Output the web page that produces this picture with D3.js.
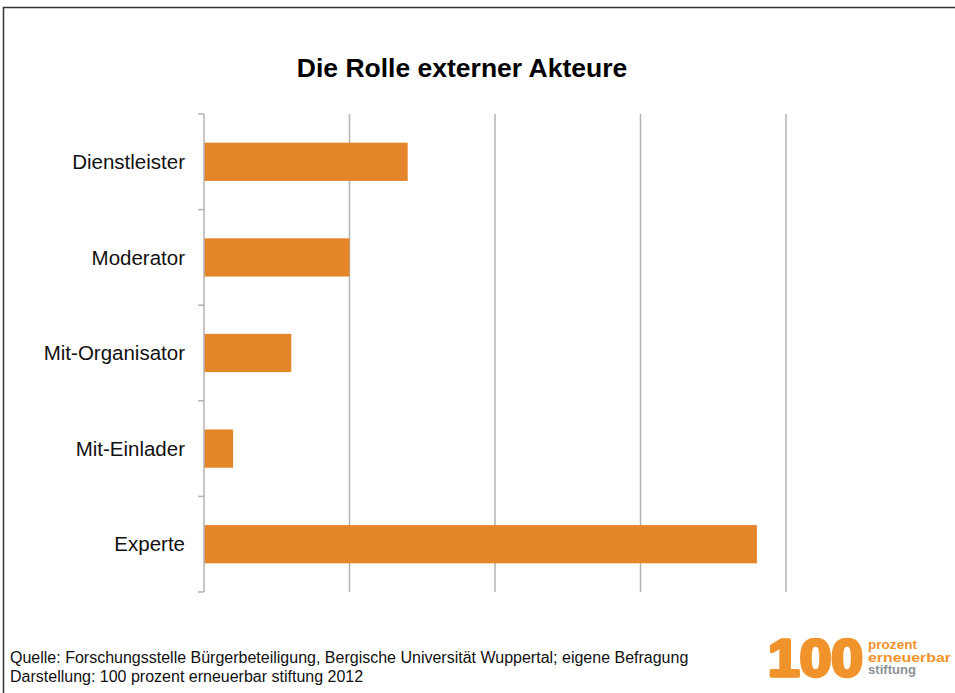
<!DOCTYPE html>
<html>
<head>
<meta charset="utf-8">
<script src="https://cdn.jsdelivr.net/npm/d3@7"></script>
<style>
  body { margin: 0; background: #fff; }
  svg text { font-family: "Liberation Sans", Arial, sans-serif; }
</style>
</head>
<body>
<div id="chart"></div>
<script>
// data
var categories = ["Dienstleister", "Moderator", "Mit-Organisator", "Mit-Einlader", "Experte"];
var values = [14, 10, 6, 2, 38];
var xTicks = [0, 10, 20, 30, 40];
var sourceLines = [
  "Quelle: Forschungsstelle Bürgerbeteiligung, Bergische Universität Wuppertal; eigene Befragung",
  "Darstellung: 100 prozent erneuerbar stiftung 2012"
];
var logoWords = ["prozent", "erneuerbar", "stiftung"];

var W = 955, H = 693;
var margin = {top: 114, right: 169, bottom: 101, left: 204},
    width = W - margin.left - margin.right,
    height = H - margin.top - margin.bottom;

var orange = "#e5852a";
var grid = "#b3b3b3";

var svg = d3.select("#chart").append("svg")
  .attr("width", W)
  .attr("height", H);

// frame
svg.append("path")
  .attr("d", "M3.5," + H + " V7.5 H" + W)
  .attr("fill", "none")
  .attr("stroke", "#333")
  .attr("stroke-width", 1.5);

svg.append("text")
  .attr("x", 462)
  .attr("y", 77)
  .attr("text-anchor", "middle")
  .attr("font-size", 26.5)
  .attr("font-weight", "bold")
  .text("Die Rolle externer Akteure");

var g = svg.append("g")
  .attr("transform", "translate(" + margin.left + "," + margin.top + ")");

var x = d3.scaleLinear().domain([0, 40]).range([0, width]);
var y = d3.scaleBand().domain(categories).range([0, height]).paddingInner(0.6).paddingOuter(0.3);

// gridlines
g.selectAll(".grid")
  .data(xTicks.slice(1))
  .enter().append("line")
  .attr("class", "grid")
  .attr("x1", function(d) { return x(d); })
  .attr("x2", function(d) { return x(d); })
  .attr("y1", 0)
  .attr("y2", height)
  .attr("stroke", grid)
  .attr("stroke-width", 1.5);

// bars
g.selectAll(".bar")
  .data(values)
  .enter().append("rect")
  .attr("class", "bar")
  .attr("x", 0)
  .attr("y", function(d, i) { return y(categories[i]); })
  .attr("width", function(d) { return x(d); })
  .attr("height", y.bandwidth())
  .attr("fill", orange);

// y axis line + ticks between categories
g.append("line")
  .attr("x1", 0).attr("x2", 0)
  .attr("y1", 0).attr("y2", height)
  .attr("stroke", grid)
  .attr("stroke-width", 1.5);

var step = height / categories.length;
g.selectAll(".ytick")
  .data(d3.range(categories.length + 1))
  .enter().append("line")
  .attr("class", "ytick")
  .attr("x1", -6).attr("x2", 0)
  .attr("y1", function(d) { return d * step; })
  .attr("y2", function(d) { return d * step; })
  .attr("stroke", grid)
  .attr("stroke-width", 1.5);

g.selectAll(".ylabel")
  .data(categories)
  .enter().append("text")
  .attr("class", "ylabel")
  .attr("x", -19)
  .attr("y", function(d) { return y(d) + y.bandwidth() / 2; })
  .attr("dy", "0.35em")
  .attr("text-anchor", "end")
  .attr("font-size", 20.5)
  .attr("fill", "#111")
  .text(function(d) { return d; });

// source
svg.selectAll(".src")
  .data(sourceLines)
  .enter().append("text")
  .attr("class", "src")
  .attr("x", 10)
  .attr("y", function(d, i) { return 663 + i * 19; })
  .attr("font-size", 16)
  .attr("fill", "#111")
  .text(function(d) { return d; });

// logo
var logo = svg.append("g").attr("transform", "translate(768,676)");
logo.append("text")
  .attr("x", 0).attr("y", 0)
  .attr("font-size", 52)
  .attr("font-weight", "bold")
  .attr("fill", "#f0932b")
  .attr("stroke", "#f0932b")
  .attr("stroke-width", 3.5)
  .attr("stroke-linejoin", "round")
  .attr("textLength", 95)
  .attr("lengthAdjust", "spacingAndGlyphs")
  .text("100");
var wordLen = [49, 83, 48];
logo.selectAll(".lw")
  .data(logoWords)
  .enter().append("text")
  .attr("x", 100)
  .attr("y", function(d, i) { return -27 + i * 12.5; })
  .attr("font-size", 12.5)
  .attr("font-weight", "bold")
  .attr("textLength", function(d, i) { return wordLen[i]; })
  .attr("lengthAdjust", "spacingAndGlyphs")
  .attr("fill", function(d, i) { return i < 2 ? "#f0932b" : "#8e9297"; })
  .text(function(d) { return d; });
</script>
</body>
</html>
